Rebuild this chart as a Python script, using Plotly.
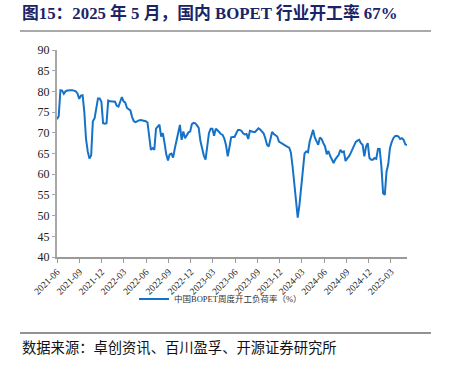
import datetime as dt
import plotly.graph_objects as go

# ---------------- data ----------------
start_date = dt.date(2021, 6, 4)
series_name = "中国BOPET周度开工负荷率（%）"
load_rate = [
    73.3, 74.0, 80.3, 80.2, 79.4, 80.0, 80.2, 80.3, 80.3, 80.3,
    80.2, 80.0, 79.5, 78.2, 79.0, 79.1, 75.0, 68.5, 65.5, 63.8,
    64.5, 72.8, 73.5, 75.8, 78.3, 78.3, 77.5, 72.3, 72.2, 72.3,
    77.8, 77.6, 77.6, 77.6, 77.5, 76.5, 76.3, 77.5, 78.6, 77.6,
    77.3, 76.0, 75.7, 75.4, 73.8, 72.8, 72.6, 72.9, 73.0, 73.1,
    73.0, 72.9, 72.8, 72.5, 68.7, 65.9, 66.3, 65.9, 71.0, 71.5,
    72.0, 69.1, 69.9, 67.5, 64.8, 63.3, 64.8, 65.0, 64.0, 66.2,
    68.3, 69.5, 71.9, 68.3, 70.3, 68.7, 69.5, 70.1, 70.3, 72.1,
    72.4, 72.3, 71.8, 71.2, 68.0, 66.0, 64.5, 63.5, 66.8, 69.9,
    71.0, 71.0, 69.3, 71.0, 70.6, 70.0, 69.7, 69.5, 68.6, 67.0,
    64.3, 66.5, 68.9, 69.0, 69.0, 69.9, 70.7, 70.7, 70.5, 69.9,
    69.6, 69.7, 68.5, 70.5, 70.3, 70.2, 70.2, 70.6, 71.1, 70.8,
    70.4, 69.9, 68.7, 67.1, 66.7, 68.3, 70.2, 69.7, 69.4, 69.1,
    67.9, 67.6, 67.4, 67.1, 66.8, 66.6, 66.4, 65.2, 61.8, 57.5,
    53.0, 49.5, 52.6, 57.0, 60.2, 65.0, 65.5, 65.3, 67.9, 69.4,
    70.7, 68.9, 67.9, 67.1, 68.9, 68.5, 67.5, 66.7, 64.8, 65.6,
    64.4, 63.5, 62.7, 63.6, 64.3, 64.7, 65.9, 65.3, 65.5, 63.2,
    63.8, 64.3, 65.1, 66.1, 67.1, 67.8, 68.1, 68.3, 67.5, 67.1,
    64.3, 66.7, 67.5, 63.9, 63.5, 63.5, 63.9, 63.7, 66.1, 66.1,
    61.9, 55.4, 55.0, 60.6, 62.4, 66.3, 67.7, 68.7, 69.2, 69.3,
    69.1, 68.5, 68.7, 68.3, 67.2, 67.0,
]
dates = [start_date + dt.timedelta(weeks=i) for i in range(len(load_rate))]

tick_labels = ["2021-06", "2021-09", "2021-12", "2022-03", "2022-06", "2022-09",
               "2022-12", "2023-03", "2023-06", "2023-09", "2023-12", "2024-03",
               "2024-06", "2024-09", "2024-12", "2025-03"]
tick_dates = [dt.date(int(t[:4]), int(t[5:]), 4) for t in tick_labels]
y_ticks = [40, 45, 50, 55, 60, 65, 70, 75, 80, 85, 90]

title_text = "图15：2025 年 5 月，国内 BOPET 行业开工率 67%"
source_text = "数据来源：卓创资讯、百川盈孚、开源证券研究所"

# ---------------- figure ----------------
W, H = 449, 373
L, R, T, B = 57, 407, 50, 257  # plot area pixels

def px_x(p):
    return (p - L) / (R - L)

def px_y(p):
    return (B - p) / (B - T)

serif = "Liberation Serif, Times New Roman, Noto Sans CJK SC, serif"
cjk = "Liberation Serif, Noto Sans CJK SC, sans-serif"

fig = go.Figure()
fig.add_trace(go.Scatter(
    x=dates, y=load_rate, mode="lines", name=series_name,
    line=dict(color="#1672C8", width=2),
))

fig.update_layout(
    width=W, height=H, autosize=False,
    margin=dict(l=L, r=W - R, t=T, b=H - B),
    paper_bgcolor="white", plot_bgcolor="white",
    showlegend=True,
    legend=dict(
        orientation="h", x=px_x(134), xanchor="left",
        y=px_y(299), yanchor="middle",
        font=dict(family=cjk, size=8.5, color="#333333"),
        bgcolor="rgba(0,0,0,0)",
    ),
    xaxis=dict(
        type="date",
        range=[dates[0], dates[-1]],
        tickvals=tick_dates, ticktext=tick_labels,
        tickangle=-45,
        tickfont=dict(family=serif, size=9.5, color="#222222"),
        showgrid=False, zeroline=False,
        showline=True, linecolor="#9A9A9A", linewidth=1.5,
        ticks="outside", ticklen=4, tickcolor="#9A9A9A", tickwidth=1,
    ),
    yaxis=dict(
        range=[40, 90], tickvals=y_ticks,
        tickfont=dict(family=serif, size=12, color="#222222"),
        showgrid=False, zeroline=False,
        showline=True, linecolor="#A8A8A8", linewidth=2,
        ticks="outside", ticklen=3, tickcolor="#A8A8A8",
    ),
)

# title & source as annotations
fig.add_annotation(
    text="<b>" + title_text + "</b>", xref="paper", yref="paper",
    x=px_x(20), y=px_y(13), xanchor="left", yanchor="middle",
    showarrow=False, font=dict(family=cjk, size=16.8, color="#1B2467"),
)
fig.add_annotation(
    text=source_text, xref="paper", yref="paper",
    x=px_x(20), y=px_y(348), xanchor="left", yanchor="middle",
    showarrow=False, font=dict(family=cjk, size=14.3, color="#111111"),
)
# separator lines
fig.add_shape(type="line", xref="paper", yref="paper",
              x0=px_x(20), x1=px_x(431), y0=px_y(31), y1=px_y(31),
              line=dict(color="#8C8C8C", width=1.5))
fig.add_shape(type="line", xref="paper", yref="paper",
              x0=px_x(20), x1=px_x(431), y0=px_y(333), y1=px_y(333),
              line=dict(color="#6E6E6E", width=1.5))

fig.write_html("out.html",
               config={"displayModeBar": False},
               post_script="document.body.style.margin='0';document.body.style.padding='0';")
